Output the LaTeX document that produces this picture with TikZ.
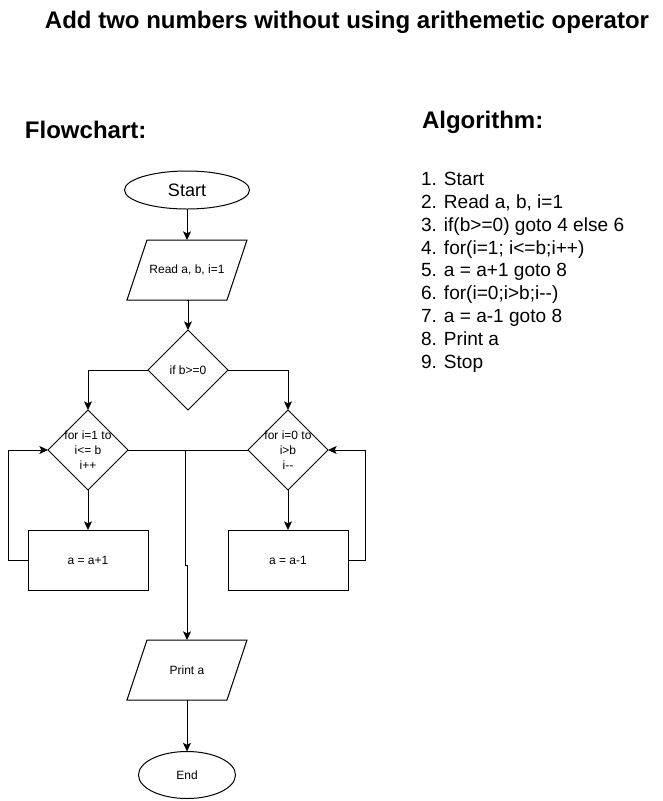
\documentclass[tikz,border=0pt]{standalone}
\usepackage{fontspec}
\setmainfont{Liberation Sans}
\usetikzlibrary{shapes.geometric,arrows.meta}
\begin{document}
\begin{tikzpicture}[x=0.75pt,y=-0.75pt,
  every node/.style={inner sep=0pt,outer sep=0pt},
  heading/.style={font=\fontsize{18}{22}\selectfont\bfseries,anchor=base west},
  small/.style={font=\fontsize{9}{11.25}\selectfont},
  line/.style={draw=black,line width=0.75pt},
  arr/.style={line,-{Stealth[length=6.5pt,width=6pt,inset=1.5pt]}},
  term/.style={line,ellipse},
  io/.style={rectangle,minimum width=75pt,minimum height=45pt,small},
  dec/.style={line,diamond,aspect=1,minimum width=60pt,minimum height=60pt},
  proc/.style={line,rectangle,minimum width=90pt,minimum height=45pt,small},
  dectext/.style={small,align=center}
]
\useasboundingbox (0,0) rectangle (662,801);

% headings
\node[heading] (title) at (45,28) {Add two numbers without using arithemetic operator};
\node[heading] (fc) at (25,138) {Flowchart:};
\node[heading] (alg) at (422,128) {Algorithm:};

% algorithm list (anchored at the baseline of its last line)
\node[font=\fontsize{14.3}{17.1}\selectfont,align=left,anchor=base west] (list) at (421,368)
 {1. Start\\2. Read a, b, i=1\\3. if(b>=0) goto 4 else 6\\4. for(i=1; i<=b;i++)\\5. a = a+1 goto 8\\6. for(i=0;i>b;i-{}-)\\7. a = a-1 goto 8\\8. Print a\\9. Stop};

% flowchart nodes
\node[term,minimum width=93.75pt,minimum height=28.5pt,font=\fontsize{13.5}{16}\selectfont] (start) at (187,190) {Start};
\node[io] (read) at (187,270) {Read a, b, i=1};
\draw[line] ([xshift=7.5pt]read.north west) -- ([xshift=7.5pt]read.north east)
  -- ([xshift=-7.5pt]read.south east) -- ([xshift=-7.5pt]read.south west) -- cycle;
\node[dec,label={[dectext]center:if b>=0}] (ifb) at (188,370) {};
\node[dec,label={[dectext]center:for i=1 to\\i<= b\\i++}] (fl) at (88,450) {};
\node[dec,label={[dectext]center:for i=0 to\\i>b\\i-{}-}] (fr) at (288,450) {};
\node[proc] (al) at (88,560) {a = a+1};
\node[proc] (as) at (288,560) {a = a-1};
\node[io] (print) at (187,670) {Print a};
\draw[line] ([xshift=7.5pt]print.north west) -- ([xshift=7.5pt]print.north east)
  -- ([xshift=-7.5pt]print.south east) -- ([xshift=-7.5pt]print.south west) -- cycle;
\node[term,minimum width=72.75pt,minimum height=35.25pt,small] (end) at (187,775) {End};

% connectors
\draw[arr] (start) -- (read);
\draw[arr] (read.south) -- (read.south -| ifb.north) -- (ifb.north);
\draw[arr] (ifb.west) -| (fl.north);
\draw[arr] (ifb.east) -| (fr.north);
\draw[arr] (fl.south) -- (al.north);
\draw[arr] (fr.south) -- (as.north);
\coordinate (lloop) at (8,560);
\coordinate (rloop) at (365,560);
\draw[arr] (al.west) -- (lloop) |- (fl.west);
\draw[arr] (as.east) -- (rloop) |- (fr.east);
\draw[line] (fl.east) -- (fr.west);
\coordinate (j) at (185,450);
\coordinate (jog) at (185,565);
\draw[arr] (j) -- (jog) -- (jog -| print.north) -- (print.north);
\draw[arr] (print) -- (end);
\end{tikzpicture}
\end{document}
